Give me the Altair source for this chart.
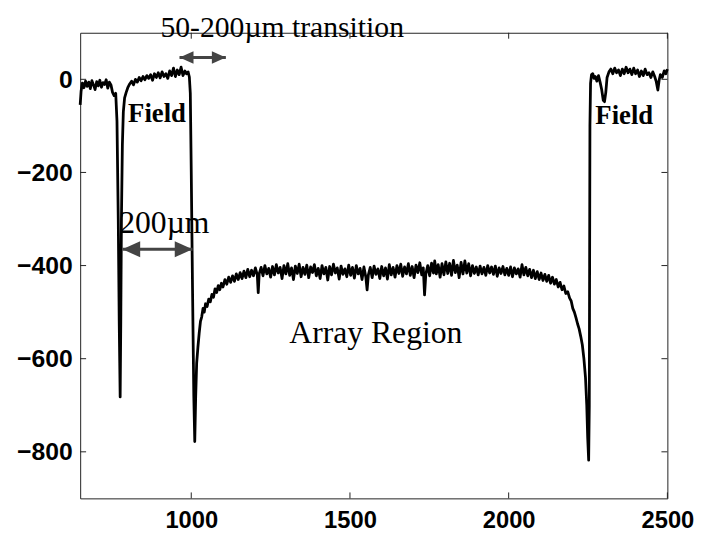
import altair as alt
import pandas as pd

# ---- profile trace (x in um, y in nm) ----
x_vals = [650, 653, 657, 662, 667, 672, 677, 682, 687, 692, 697, 702, 707, 712, 717, 722, 727, 732, 737, 742,
          747, 752, 757, 762, 766, 770, 773, 776, 778, 780, 783, 786, 790, 795, 800, 806, 812, 818, 824, 830,
          836, 842, 848, 854, 860, 866, 872, 878, 884, 890, 896, 902, 908, 914, 920, 926, 932, 938, 944, 950,
          956, 962, 968, 974, 980, 985, 990, 994, 997, 1000, 1004, 1008, 1011, 1014, 1017, 1021, 1025, 1029, 1033, 1037,
          1041, 1045, 1050, 1055, 1060, 1065, 1070, 1075, 1080, 1085, 1090, 1095, 1100, 1106, 1112, 1118, 1124, 1130, 1136, 1142,
          1148, 1154, 1160, 1166, 1172, 1178, 1184, 1190, 1196, 1202, 1208, 1211, 1214, 1220, 1226, 1232, 1238, 1244, 1250, 1256,
          1262, 1268, 1274, 1280, 1286, 1292, 1298, 1304, 1310, 1316, 1322, 1328, 1334, 1340, 1346, 1352, 1358, 1364, 1370, 1376,
          1382, 1388, 1394, 1400, 1406, 1412, 1418, 1424, 1430, 1436, 1442, 1448, 1454, 1460, 1466, 1472, 1478, 1484, 1490, 1496,
          1502, 1508, 1514, 1520, 1526, 1532, 1538, 1544, 1550, 1554, 1558, 1564, 1570, 1576, 1582, 1588, 1594, 1600, 1606, 1612,
          1618, 1624, 1630, 1636, 1642, 1648, 1654, 1660, 1666, 1672, 1678, 1684, 1690, 1696, 1702, 1708, 1714, 1720, 1726, 1731,
          1735, 1739, 1745, 1751, 1757, 1763, 1767, 1772, 1778, 1784, 1790, 1796, 1802, 1808, 1814, 1820, 1826, 1832, 1838, 1844,
          1850, 1856, 1862, 1868, 1874, 1880, 1886, 1892, 1898, 1904, 1910, 1916, 1922, 1928, 1934, 1940, 1946, 1952, 1958, 1964,
          1970, 1976, 1982, 1988, 1994, 2000, 2006, 2012, 2018, 2024, 2030, 2036, 2042, 2048, 2054, 2060, 2066, 2072, 2078, 2084,
          2090, 2096, 2102, 2108, 2114, 2120, 2126, 2132, 2138, 2144, 2150, 2156, 2162, 2168, 2174, 2180, 2186, 2192, 2197, 2202,
          2207, 2212, 2217, 2222, 2227, 2232, 2237, 2242, 2246, 2249, 2252, 2254, 2255, 2256, 2258, 2261, 2265, 2269, 2273, 2278,
          2283, 2288, 2293, 2298, 2302, 2306, 2310, 2316, 2322, 2328, 2334, 2340, 2346, 2352, 2358, 2364, 2370, 2376, 2382, 2388,
          2394, 2400, 2406, 2412, 2418, 2424, 2430, 2436, 2442, 2448, 2454, 2460, 2465, 2470, 2474, 2478, 2484, 2490, 2495, 2500]
y_vals = [-55, -25, -8, -18, -4, -15, -6, -20, -3, -12, -22, -5, -14, -2, -17, -7, -11, -1, -19, -6,
          -12, -28, -35, -30, -90, -300, -520, -682, -520, -300, -140, -70, -40, -28, -18, -10, -4, -12, 0, -6,
          4, -3, 6, -1, 8, 2, 10, -2, 12, 4, 14, 3, 16, 6, 12, 2, 18, 8, 24, 6,
          20, 10, 26, 8, 18, 12, 16, 5, -30, -200, -450, -680, -778, -680, -610, -575, -545, -520, -510, -492,
          -500, -482, -488, -472, -478, -462, -468, -450, -458, -443, -452, -438, -446, -430, -440, -425, -436, -422, -434, -418,
          -430, -415, -428, -412, -426, -408, -424, -410, -422, -405, -420, -458, -418, -404, -422, -400, -418, -406, -425, -402,
          -420, -398, -416, -404, -428, -400, -418, -396, -421, -405, -430, -401, -417, -397, -424, -404, -419, -399, -426, -403,
          -415, -398, -422, -406, -428, -400, -418, -404, -431, -402, -420, -397, -416, -405, -429, -401, -419, -407, -424, -399,
          -421, -404, -427, -400, -418, -406, -430, -403, -425, -452, -420, -404, -426, -401, -419, -407, -428, -402, -422, -405,
          -429, -398, -420, -404, -425, -400, -417, -397, -423, -403, -418, -396, -421, -402, -426, -399, -415, -394, -420, -405,
          -463, -418, -400, -422, -395, -416, -390, -418, -398, -425, -396, -420, -392, -417, -395, -421, -389, -415, -399, -426,
          -393, -418, -390, -416, -396, -422, -400, -417, -403, -420, -401, -418, -404, -421, -400, -416, -403, -419, -401, -423,
          -405, -417, -402, -420, -406, -421, -403, -424, -405, -418, -407, -425, -398, -420, -404, -422, -408, -426, -410, -428,
          -413, -430, -416, -432, -419, -434, -421, -438, -425, -440, -430, -446, -436, -452, -444, -460, -456, -470, -476, -492,
          -500, -512, -525, -536, -552, -570, -600, -640, -700, -770, -818, -700, -400, -100, -8, 10, 12, 2, 6, -4,
          8, -6, -22, -45, -48, -28, 4, 16, 22, 12, 24, 14, 20, 8, 22, 12, 26, 14, 22, 10,
          24, 12, 20, 6, 18, 8, 22, 10, 14, 4, 16, 6, -5, -23, -2, 10, 4, 18, 12, 22]

x_ticks = [1000, 1500, 2000, 2500]
y_ticks = [0, -200, -400, -600, -800]

# annotations
label_text = ["50-200\u00b5m transition", "200\u00b5m", "Array Region"]
label_x = [903, 773, 1309]
label_y = [90, -331, -567]
label_size = [30, 32, 32]

field_text = ["Field", "Field"]
field_x = [801, 2273]
field_y = [-91, -97]

arrow_x1 = [963, 783]
arrow_x2 = [1109, 1004]
arrow_y = [47, -365]
arrow_size = [200, 324]

W, H = 594, 471

df = pd.DataFrame({"x": x_vals, "y": y_vals})
xt = pd.DataFrame({"x": x_ticks})
yt = pd.DataFrame({"y": y_ticks})
lab = pd.DataFrame({"x": label_x, "y": label_y, "t": label_text, "fs": label_size})
fld = pd.DataFrame({"x": field_x, "y": field_y, "t": field_text})
arr = pd.DataFrame({"x1": arrow_x1, "x2": arrow_x2, "y": arrow_y, "s": arrow_size})

xs = alt.Scale(domain=[650, 2500], nice=False, zero=False)
ys = alt.Scale(domain=[-900, 100], nice=False, zero=False)

xaxis = alt.Axis(values=x_ticks, format="d", title=None, grid=False, ticks=False, domain=False,
                 labelFont="Liberation Sans", labelFontWeight="bold", labelFontSize=24,
                 labelColor="black", labelPadding=10, labelFlush=False, labelOverlap=False)
yaxis = alt.Axis(values=y_ticks, format="d", title=None, grid=False, ticks=False, domain=False,
                 labelFont="Liberation Sans", labelFontWeight="bold", labelFontSize=25,
                 labelColor="black", labelPadding=8, labelOverlap=False)

X = alt.X("x:Q", scale=xs, axis=xaxis)
Y = alt.Y("y:Q", scale=ys, axis=yaxis)
X1 = alt.X("x1:Q", scale=xs, axis=xaxis)
X2f = alt.X("x2:Q", scale=xs, axis=xaxis)

line = alt.Chart(df).mark_line(color="black", strokeWidth=2.8, strokeJoin="round").encode(x=X, y=Y)

tick_style = dict(color="#222", strokeWidth=1)
tb = alt.Chart(xt).mark_rule(**tick_style).encode(x=X, y=alt.value(H), y2=alt.value(H - 6))
tt = alt.Chart(xt).mark_rule(**tick_style).encode(x=X, y=alt.value(0), y2=alt.value(6))
tl = alt.Chart(yt).mark_rule(**tick_style).encode(y=Y, x=alt.value(0), x2=alt.value(6))
tr = alt.Chart(yt).mark_rule(**tick_style).encode(y=Y, x=alt.value(W), x2=alt.value(W - 6))

shaft = alt.Chart(arr).mark_rule(color="#444", strokeWidth=3).encode(x=X1, x2="x2:Q", y=Y)
head_l = alt.Chart(arr).mark_point(shape="M0,0L2,-0.9L2,0.9Z", filled=True, color="#444",
                                   opacity=1, strokeWidth=0).encode(
    x=X1, y=Y, size=alt.Size("s:Q", scale=None))
head_r = alt.Chart(arr).mark_point(shape="M0,0L-2,-0.9L-2,0.9Z", filled=True, color="#444",
                                   opacity=1, strokeWidth=0).encode(
    x=X2f, y=Y, size=alt.Size("s:Q", scale=None))

labels = alt.Chart(lab).mark_text(font="Liberation Serif", align="left",
                                  baseline="alphabetic", color="black").encode(
    x=X, y=Y, text="t:N", size=alt.Size("fs:Q", scale=None))
fields = alt.Chart(fld).mark_text(font="Liberation Serif", fontSize=27, fontWeight="bold", align="left",
                                  baseline="alphabetic", color="black").encode(x=X, y=Y, text="t:N")

chart = alt.layer(line, tb, tt, tl, tr, shaft, head_l, head_r, labels, fields).properties(
    width=W, height=H, autosize="none",
    padding={"left": 73, "top": 22, "right": 33, "bottom": 34},
    background="white",
).configure_view(stroke="#222", strokeWidth=1)

chart.save("out.html", embed_options={"renderer": "svg", "actions": False})
